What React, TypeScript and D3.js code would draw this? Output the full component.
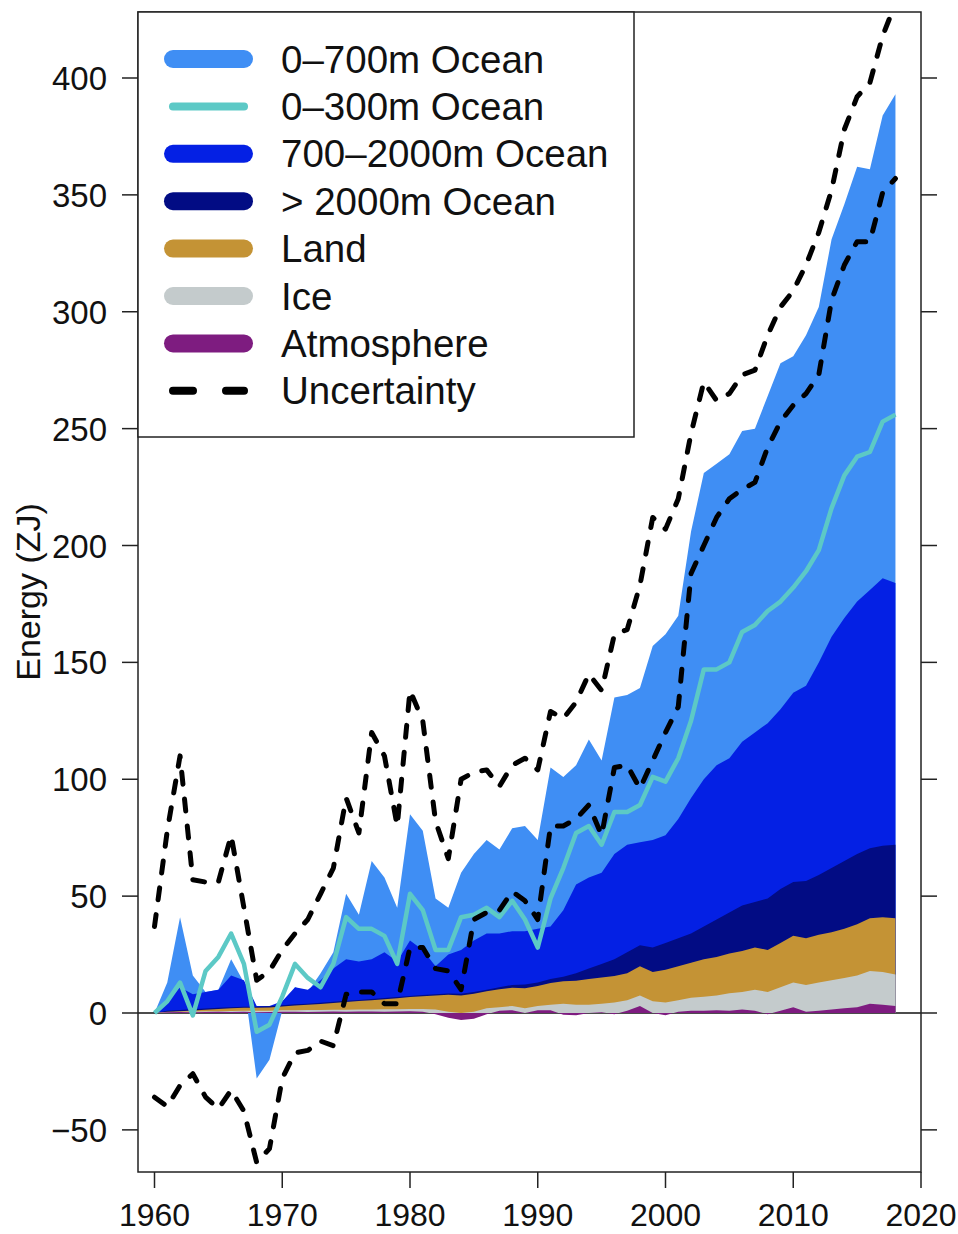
import React from "react";
import * as d3 from "d3";

// cumulative tops of each stacked layer, ZJ, one value per year 1960-2018
const years = d3.range(1960, 2019);

const ocean0700Top = [
  0, 13, 41, 16, 9, 10, 23, 13, -28, -20,
  1, 11, 9, 17, 26, 51, 42, 65, 58, 45,
  85, 78, 49, 45, 60, 68, 74, 70, 79, 80,
  74, 105, 101, 106, 117, 108, 135, 136, 139, 157,
  162, 170, 206, 231, 235, 239, 249, 250, 264, 278,
  281, 290, 302, 331, 346, 362, 361, 384, 393,
];
const ocean7002000Top = [
  0, 5, 11, 8, 9, 10, 16, 14, 3, 3,
  5, 11, 10, 14, 19, 23, 22, 23, 26, 22,
  31, 27, 20, 25, 27, 31, 34, 34, 35, 35,
  36, 37, 44, 55, 58, 60, 68, 72, 73, 74,
  76, 83, 92, 100, 106, 109, 116, 120, 124, 130,
  137, 140, 150, 161, 169, 176, 181, 186, 184,
];
const ocean2000Top = [
  0, 1.0, 1.3, 1.6, 1.9, 2.2, 2.5, 2.7, 2.7, 2.9,
  3.3, 3.7, 4.0, 4.4, 4.8, 5.2, 5.6, 6.0, 6.4, 6.8,
  7.3, 7.7, 8.0, 8.3, 8.2, 9, 10, 11, 12, 12.2,
  13, 14.5, 15.5, 17, 19, 21, 23, 26, 29, 28,
  30, 32, 34, 37, 40, 43, 46, 47.5, 49, 53,
  56, 56.5, 59, 62, 65, 68, 70.5, 71.5, 72,
];
const landTop = [
  0, 0.5, 0.8, 1.1, 1.4, 1.7, 2, 2.2, 2.2, 2.4,
  2.8, 3.2, 3.5, 3.9, 4.3, 4.7, 5.1, 5.5, 5.9, 6.3,
  6.8, 7.2, 7.5, 7.8, 7.5, 8.2, 9.3, 10.2, 10.8, 10.6,
  11.5, 12.8, 13.6, 13.8, 14.5, 15.2, 15.8, 17, 20, 17.5,
  18.5, 20, 21.5, 23, 24, 25.5, 26.5, 28, 27, 30,
  33, 32, 33.5, 34.5, 36, 38, 40.5, 41, 40.5,
];
const iceTop = [
  0, 0.3, 0.5, 0.6, 0.7, 0.8, 0.9, 1, 1, 1,
  1.2, 1.2, 1.3, 1.3, 1.4, 1.4, 1.5, 1.5, 1.6, 1.6,
  1.7, 1.7, 1.5, 0.5, 0, 0.5, 2, 2.5, 3, 2,
  3, 3.5, 4, 3.5, 3.5, 4, 4.5, 5.5, 7.5, 5,
  4.5, 5.5, 6.5, 7, 7.5, 8.5, 9, 10, 9, 11,
  13, 12, 13, 14, 15, 16, 18, 17.5, 16.5,
];
const atmosphereTop = [
  0, 0.3, 0.4, 0.3, 0.4, 0.5, 0.4, 0.5, 0.3, 0.4,
  0.5, 0.5, 0.4, 0.5, 0.6, 0.5, 0.6, 0.6, 0.5, 0.6,
  0.8, 0.5, -0.5, -2, -3, -2.5, -0.5, 1, 1.2, 0,
  1.2, 1.2, -0.8, -1, 0, 0.3, -0.5, 1, 3, 0,
  -1, 0.5, 1, 1, 1.2, 1, 1.5, 1, -0.5, 1,
  2.5, 0.5, 1, 1.5, 2, 2.5, 4, 3.5, 3,
];
const ocean0300 = [
  0, 5, 13, -1, 18, 24, 34, 21, -8, -5,
  7, 21, 15, 11, 21, 41, 36, 36, 33, 21,
  51, 44, 27, 27, 41, 42, 45, 41, 48, 40,
  28, 49, 62, 77, 80, 72, 86, 86, 89, 101,
  99, 109, 125, 147, 147, 150, 163, 166, 172, 176,
  182, 189, 198, 216, 230, 238, 240, 253, 256,
];
const upperBound = [
  37, 78, 110, 57, 56, 56, 76, 45, 14, 18,
  27, 34, 40, 51, 62, 92, 77, 120, 110, 80,
  138, 125, 82, 66, 100, 103, 104, 97, 106, 109,
  104, 129, 126, 133, 145, 138, 162, 164, 183, 212,
  207, 220, 248, 270, 262, 265, 273, 275, 290, 302,
  309, 320, 334, 352, 378, 392, 398, 418, 432,
];
const lowerBound = [
  -36, -40, -31, -26, -36, -41, -33, -42, -64, -58,
  -28, -17, -16, -12, -14, 8, 9, 9, 4, 4,
  28, 28, 19, 18, 10, 40, 43, 44, 52, 48,
  40, 80, 80, 83, 89, 76, 105, 106, 96, 108,
  120, 131, 188, 200, 212, 220, 224, 227, 242, 253,
  260, 265, 273, 305, 320, 330, 330, 351, 357,
];

const yTicks = [-50, 0, 50, 100, 150, 200, 250, 300, 350, 400];
const xTicks = [1960, 1970, 1980, 1990, 2000, 2010, 2020];

const colors = {
  ocean0700: "#3f8ef4",
  ocean0300: "#5cc9c6",
  ocean7002000: "#0420e4",
  ocean2000: "#020c84",
  land: "#c49335",
  ice: "#c4cbcc",
  atmosphere: "#7e1c80",
};

const legendItems = [
  { label: "0\u2013700m Ocean", color: colors.ocean0700, kind: "fat" },
  { label: "0\u2013300m Ocean", color: colors.ocean0300, kind: "thin" },
  { label: "700\u20132000m Ocean", color: colors.ocean7002000, kind: "fat" },
  { label: "> 2000m Ocean", color: colors.ocean2000, kind: "fat" },
  { label: "Land", color: colors.land, kind: "fat" },
  { label: "Ice", color: colors.ice, kind: "fat" },
  { label: "Atmosphere", color: colors.atmosphere, kind: "fat" },
  { label: "Uncertainty", color: "#000", kind: "dash" },
];

const font = "'Liberation Sans', Arial, Helvetica, sans-serif";

export default function App() {
  const box = { left: 138, top: 12, right: 921, bottom: 1172 };
  const x = d3.scaleLinear().domain([1960, 2020]).range([154.5, 921]);
  const y = d3.scaleLinear().domain([0, 400]).range([1013, 78]);

  const area = d3
    .area<number>()
    .x((_, i) => x(years[i]))
    .y0(y(0))
    .y1((v) => y(v));
  const line = d3
    .line<number>()
    .x((_, i) => x(years[i]))
    .y((v) => y(v));

  const layers = [
    { vals: ocean0700Top, color: colors.ocean0700 },
    { vals: ocean7002000Top, color: colors.ocean7002000 },
    { vals: ocean2000Top, color: colors.ocean2000 },
    { vals: landTop, color: colors.land },
    { vals: iceTop, color: colors.ice },
    { vals: atmosphereTop, color: colors.atmosphere },
  ];

  const legX0 = 173, legX1 = 244, legText = 281;
  const legY = (i: number) => 59 + i * 47.4;

  return (
    <svg
      width={958}
      height={1234}
      style={{ position: "absolute", left: 0, top: 0, background: "#fff" }}
      fontFamily={font}
    >
      <defs>
        <clipPath id="plot">
          <rect x={box.left} y={box.top} width={box.right - box.left} height={box.bottom - box.top} />
        </clipPath>
      </defs>

      <g clipPath="url(#plot)">
        <line x1={box.left} x2={box.right} y1={y(0)} y2={y(0)} stroke="#111" strokeWidth={1.5} />
        {layers.map((l, i) => (
          <path key={i} d={area(l.vals) || ""} fill={l.color} />
        ))}
        <path d={line(ocean0300) || ""} fill="none" stroke={colors.ocean0300} strokeWidth={4.5} strokeLinejoin="round" />
        {[upperBound, lowerBound].map((b, i) => (
          <path
            key={i}
            d={line(b) || ""}
            fill="none"
            stroke="#000"
            strokeWidth={5}
            strokeDasharray="12 15"
            strokeLinecap="round"
            strokeLinejoin="round"
          />
        ))}
      </g>

      {/* plot frame */}
      <rect
        x={box.left}
        y={box.top}
        width={box.right - box.left}
        height={box.bottom - box.top}
        fill="none"
        stroke="#222"
        strokeWidth={1.5}
      />

      {/* y axis, both sides */}
      {yTicks.map((t) => (
        <g key={t}>
          <line x1={box.left - 16} x2={box.left} y1={y(t)} y2={y(t)} stroke="#222" strokeWidth={1.5} />
          <line x1={box.right} x2={box.right + 16} y1={y(t)} y2={y(t)} stroke="#222" strokeWidth={1.5} />
          <text x={107} y={y(t) + 12} textAnchor="end" fontSize={33} fill="#111">
            {t < 0 ? "\u2212" + Math.abs(t) : t}
          </text>
        </g>
      ))}

      {/* x axis */}
      {xTicks.map((t) => (
        <g key={t}>
          <line x1={x(t)} x2={x(t)} y1={box.bottom} y2={box.bottom + 16} stroke="#222" strokeWidth={1.5} />
          <text x={x(t)} y={1226} textAnchor="middle" fontSize={32} fill="#111">
            {t}
          </text>
        </g>
      ))}

      <text transform="translate(40,592) rotate(-90)" textAnchor="middle" fontSize={34} fill="#111">
        Energy (ZJ)
      </text>

      {/* legend */}
      <rect x={box.left} y={box.top} width={634 - box.left} height={437 - box.top} fill="#fff" stroke="#222" strokeWidth={1.5} />
      {legendItems.map((it, i) => (
        <g key={it.label}>
          <line
            x1={legX0}
            x2={legX1}
            y1={legY(i)}
            y2={legY(i)}
            stroke={it.color}
            strokeWidth={it.kind === "fat" ? 18 : 8}
            strokeLinecap="round"
            strokeDasharray={it.kind === "dash" ? "20 33" : undefined}
          />
          <text x={legText} y={legY(i) + 13.5} fontSize={38.5} fill="#111">
            {it.label}
          </text>
        </g>
      ))}
    </svg>
  );
}
